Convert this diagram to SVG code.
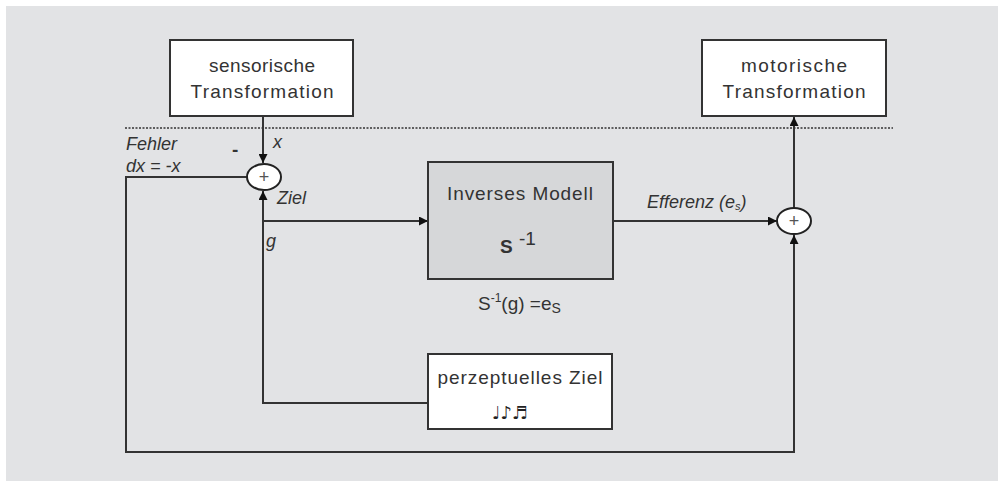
<svg xmlns="http://www.w3.org/2000/svg" width="998" height="481" viewBox="0 0 998 481">
<style>
.box{fill:#ffffff;stroke:#333;stroke-width:2}
.gbox{fill:#d6d7d9;stroke:#333;stroke-width:2}
.sum{fill:#ffffff;stroke:#222;stroke-width:2}
.ln{fill:none;stroke:#333;stroke-width:2}
.t{font-family:"Liberation Sans",Arial,sans-serif;font-size:19px;fill:#333}
.i{font-family:"Liberation Sans",Arial,sans-serif;font-size:18px;font-style:italic;fill:#333}
.plus{font-family:"Liberation Sans",Arial,sans-serif;font-size:18px;fill:#555}
</style>
<defs>
<marker id="arr" viewBox="0 0 10 10" refX="10" refY="5" markerWidth="9" markerHeight="9" orient="auto" markerUnits="userSpaceOnUse">
<path d="M0,0 L10,5 L0,10 z" fill="#111"/>
</marker>
</defs>
<rect x="0" y="0" width="998" height="481" fill="#ffffff"/>
<rect x="6" y="6" width="992" height="475" fill="#e2e3e5"/>
<line x1="125" y1="128" x2="893" y2="128" stroke="#333" stroke-width="1.5" stroke-dasharray="2,1.5"/>
<g id="connectors">
<line class="ln" x1="263" y1="116" x2="263" y2="163" marker-end="url(#arr)"/>
<polyline class="ln" points="247,177 126,177 126,452 794,452 794,235" marker-end="url(#arr)"/>
<polyline class="ln" points="428,403 263,403 263,191" marker-end="url(#arr)"/>
<line class="ln" x1="263" y1="221" x2="428" y2="221" marker-end="url(#arr)"/>
<line class="ln" x1="613" y1="221" x2="777" y2="221" marker-end="url(#arr)"/>
<line class="ln" x1="794" y1="208" x2="794" y2="117" marker-end="url(#arr)"/>
</g>
<g id="sensorische">
<rect class="box" x="170" y="40" width="183" height="76"/>
<text class="t" x="262" y="72" text-anchor="middle" textLength="106">sensorische</text>
<text class="t" x="262" y="98" text-anchor="middle" textLength="143">Transformation</text>
</g>
<g id="motorische">
<rect class="box" x="702" y="40" width="184" height="76"/>
<text class="t" x="794" y="72" text-anchor="middle" textLength="106">motorische</text>
<text class="t" x="794" y="98" text-anchor="middle" textLength="143">Transformation</text>
</g>
<g id="sum1">
<ellipse class="sum" cx="264" cy="177" rx="17" ry="13"/>
<text class="plus" x="264" y="183" text-anchor="middle">+</text>
</g>
<g id="sum2">
<ellipse class="sum" cx="794" cy="221" rx="17" ry="13"/>
<text class="plus" x="794" y="227" text-anchor="middle">+</text>
</g>
<g id="inverses">
<rect class="gbox" x="428" y="162" width="185" height="117"/>
<text class="t" x="520" y="200" text-anchor="middle" textLength="146">Inverses Modell</text>
<text class="t" x="500" y="253" font-weight="bold" font-size="24">S</text>
<text class="t" x="519" y="245" font-size="15">-1</text>
</g>
<g id="perzeptuelles">
<rect class="box" x="428" y="354" width="184" height="75"/>
<text class="t" x="520" y="384" text-anchor="middle" textLength="165">perzeptuelles Ziel</text>
<text x="510" y="419" text-anchor="middle" font-family="DejaVu Sans, sans-serif" font-size="18" fill="#222">♩♪♬</text>
</g>
<g id="labels">
<text class="i" x="126" y="150">Fehler</text>
<text class="i" x="126" y="172">dx = -x</text>
<text class="t" x="232" y="156" font-size="20" font-weight="bold">-</text>
<text class="i" x="273" y="148">x</text>
<text class="i" x="277" y="204">Ziel</text>
<text class="i" x="266" y="247">g</text>
<text class="i" x="647" y="208">Efferenz (e<tspan font-size="11" dy="2">s</tspan><tspan dy="-2">)</tspan></text>
<text class="t" x="478" y="310" font-size="18">S<tspan font-size="12" dy="-8">-1</tspan><tspan dy="8">(g) =e</tspan><tspan font-size="14" dy="3">S</tspan></text>
</g>
</svg>
